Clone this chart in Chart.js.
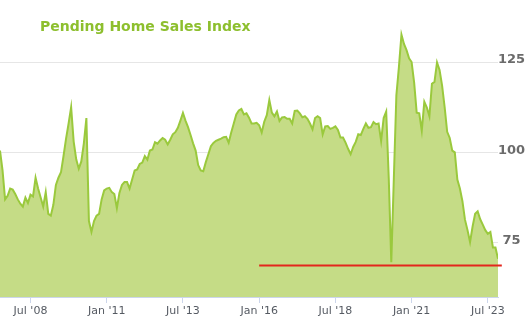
<!DOCTYPE html>
<html>
<head>
<meta charset="utf-8">
<title>Pending Home Sales Index</title>
<script src="https://cdn.jsdelivr.net/npm/chart.js@4.4.0/dist/chart.umd.min.js"></script>
<style>
	body { margin: 0; background: #fff; }
	#wrap { position: relative; width: 525px; height: 331px; }
	#chartTitle {
		position: absolute; left: 40px; top: 18px;
		font: bold 14px "DejaVu Sans", Verdana, sans-serif;
		color: #8dbf2e; pointer-events: none;
	}
</style>
</head>
<body>
<div id="wrap">
	<canvas id="phsChart" width="525" height="331"></canvas>
	<div id="chartTitle">Pending Home Sales Index</div>
</div>
<script>
	// Monthly index values, first point is Jul 2007 (index 0)
	const pendingIndex = [
		// 2007 (Jul - Dec)
		100.5, 95, 87, 88, 90, 89.7,
		// 2008
		88.5, 87, 85.8, 85, 87.5, 86, 88.3, 87.8, 93, 90, 87.5, 85,
		// 2009
		89, 83, 82.5, 85.5, 91, 93, 94.5, 99, 103.8, 108, 112.5, 103,
		// 2010
		98.1, 95.5, 97.5, 102.5, 109.5, 81, 78, 81, 82.5, 83, 87, 89.5,
		// 2011
		90, 90.2, 89, 88.5, 84.6, 88.8, 91, 91.8, 91.8, 90, 92.5, 95,
		// 2012
		95.3, 96.8, 97.2, 99, 98, 100.5, 100.8, 102.8, 102.4, 103.3, 104, 103.5,
		// 2013
		102.2, 103.5, 105, 105.6, 106.8, 108.8, 110.9, 108.8, 107, 104.8, 102.5, 100.5,
		// 2014
		96.5, 95, 94.8, 97.3, 99.5, 101.7, 102.6, 103.2, 103.5, 103.8, 104.2, 104.3,
		// 2015
		102.7, 105.5, 108, 110.5, 111.6, 112, 110.5, 110.8, 109.6, 108, 108, 108.2,
		// 2016
		107.5, 105.5, 108.5, 110.3, 114.5, 111, 110, 111.3, 108.7, 109.7, 109.8, 109.3,
		// 2017
		109.3, 108, 111.5, 111.6, 110.8, 109.7, 110, 109.3, 108, 106.4, 109.5, 110,
		// 2018
		109.5, 105, 107.2, 107.3, 106.5, 106.8, 107.2, 106.2, 104.1, 104.1, 102.7, 101,
		// 2019
		99.5, 101.5, 102.9, 105, 104.8, 106.5, 108, 106.8, 107, 108.4, 107.8, 108,
		// 2020
		103.2, 109.5, 111.3, 93, 69.6, 92.7, 115.8, 123.6, 132.6, 130, 128.3, 126,
		// 2021
		125, 119.3, 111, 110.8, 106, 114, 112.4, 110, 119, 119.5, 124.9, 122.8,
		// 2022
		118.5, 112.5, 105.7, 104, 100.5, 100, 92.5, 90, 86.5, 81.4, 78.5, 75.2,
		// 2023 (Jan - Nov)
		79.5, 83, 83.7, 81.5, 80, 78.5, 77.5, 78, 73.7, 73.7, 70.6
	];

	// Axis ticks (month index from Jul 2007) and their labels
	const tickIndex = [12, 42, 72, 102, 132, 162, 192];
	const tickLabels = ["Jul '08", "Jan '11", "Jul '13", "Jan '16", "Jul '18", "Jan '21", "Jul '23"];
	const yTicks = [75, 100, 125];

	// Reference level marked from Jan '16 onwards
	const refLevel = 68.7;
	const refStart = 102;
	const refEnd = 197.5;

	const seriesPoints = pendingIndex.map((v, i) => ({ x: i, y: v }));
	const refPoints = [{ x: refStart, y: refLevel }, { x: refEnd, y: refLevel }];

	new Chart(document.getElementById('phsChart'), {
		type: 'line',
		data: {
			datasets: [
				{
					data: refPoints,
					borderColor: '#e3261d',
					borderWidth: 2,
					pointRadius: 0,
					fill: false,
					clip: false,
					order: 0
				},
				{
					data: seriesPoints,
					borderColor: '#9ac93d',
					backgroundColor: '#c5dc86',
					borderWidth: 2,
					pointRadius: 0,
					tension: 0,
					fill: 'start',
					order: 1
				}
			]
		},
		options: {
			responsive: false,
			animation: false,
			layout: { padding: { top: 3, left: 0, right: 0, bottom: 0 } },
			plugins: {
				legend: { display: false },
				tooltip: { enabled: false }
			},
			scales: {
				x: {
					type: 'linear',
					min: 0,
					max: pendingIndex.length - 1,
					afterBuildTicks: scale => {
						scale.ticks = tickIndex.map(v => ({ value: v }));
					},
					afterFit: scale => { scale.height = 34; },
					grid: {
						drawOnChartArea: false,
						drawTicks: true,
						tickLength: 6,
						color: '#ccd6eb'
					},
					border: { color: '#ccd6eb' },
					ticks: {
						autoSkip: false,
						maxRotation: 0,
						padding: 2,
						color: '#555a62',
						font: { family: '"DejaVu Sans", Verdana, sans-serif', size: 11 },
						callback: v => tickLabels[tickIndex.indexOf(v)] || ''
					}
				},
				y: {
					position: 'right',
					min: 60,
					max: 140,
					afterBuildTicks: scale => {
						scale.ticks = yTicks.map(v => ({ value: v }));
					},
					afterFit: scale => { scale.width = 27; },
					grid: {
						color: '#e6e6e6',
						drawTicks: false
					},
					border: { display: false },
					ticks: {
						crossAlign: 'center',
						padding: 0,
						labelOffset: -2,
						color: '#6b6b6b',
						font: { family: '"DejaVu Sans", Verdana, sans-serif', size: 13, weight: 'bold' }
					}
				}
			}
		}
	});
</script>
</body>
</html>
